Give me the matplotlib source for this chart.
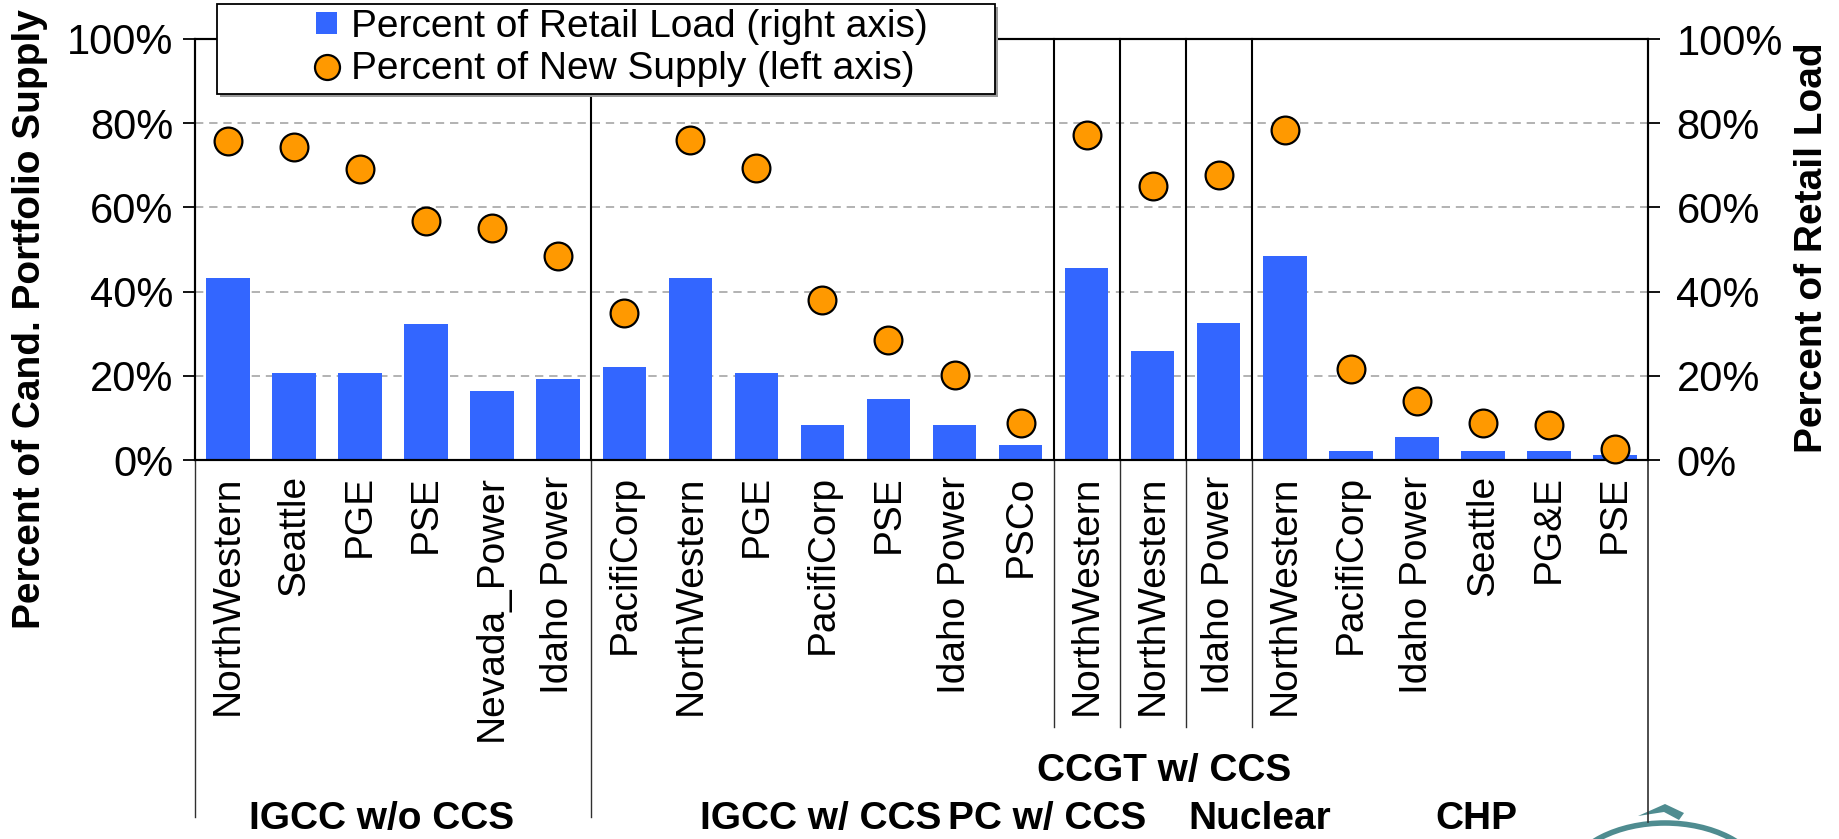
import numpy as np
import matplotlib
matplotlib.use('Agg')
import matplotlib.pyplot as plt
from matplotlib.patches import Rectangle, Arc, Polygon
import matplotlib.transforms as mtransforms
from matplotlib.ticker import PercentFormatter

# ---------------- data ----------------
categories = ["NorthWestern", "Seattle", "PGE", "PSE", "Nevada_Power", "Idaho Power",
              "PacifiCorp", "NorthWestern", "PGE", "PacifiCorp", "PSE", "Idaho Power", "PSCo",
              "NorthWestern", "NorthWestern", "Idaho Power",
              "NorthWestern", "PacifiCorp", "Idaho Power", "Seattle", "PG&E", "PSE"]
groups = ["IGCC w/o CCS", "IGCC w/ CCS", "PC w/ CCS", "CCGT w/ CCS", "Nuclear", "CHP"]
group_sizes = [6, 7, 1, 1, 1, 6]
retail_load = [43.3, 20.6, 20.6, 32.2, 16.3, 19.2,
               22.1, 43.3, 20.7, 8.3, 14.4, 8.3, 3.5,
               45.6, 25.9, 32.6,
               48.4, 2.1, 5.4, 2.1, 2.1, 1.1]
new_supply = [75.8, 74.4, 69.1, 56.7, 55.2, 48.5,
              34.8, 76.0, 69.3, 38.1, 28.6, 20.3, 8.9,
              77.2, 65.2, 67.6,
              78.3, 21.7, 14.1, 8.9, 8.4, 2.6]
yticks = [0, 20, 40, 60, 80, 100]
series_labels = ["Percent of Retail Load (right axis)", "Percent of New Supply (left axis)"]

# ---------------- layout ----------------
plt.rcParams['font.family'] = ['Liberation Sans', 'DejaVu Sans']
W, H = 1839, 839
L, R, T, B = 195, 1648, 39, 460
fig = plt.figure(figsize=(W / 100, H / 100), dpi=100)
ax = fig.add_axes([L / W, 1 - B / H, (R - L) / W, (B - T) / H])
ax2 = ax.twinx()
ax.set_zorder(2)
ax.patch.set_visible(False)

BLUE = '#3366FF'
ORANGE = '#FF9900'

x = np.arange(len(categories))
bars = ax2.bar(x, retail_load, width=0.66, color=BLUE, zorder=2, label=series_labels[0])
dots, = ax.plot(x, new_supply, 'o', ms=20, mfc=ORANGE, mec='black', mew=1.6,
                ls='none', label=series_labels[1], clip_on=False, zorder=3)

for a in (ax, ax2):
    a.set_ylim(0, 100)
    a.set_xlim(-0.5, len(categories) - 0.5)
    a.set_yticks(yticks)
    a.yaxis.set_major_formatter(PercentFormatter(decimals=0))
    for s in a.spines.values():
        s.set_linewidth(1.5)

ax2.set_axisbelow(True)
ax2.grid(axis='y', color='#A6A6A6', ls=(0, (5, 3.5)), lw=1.2)

ax.set_xticks(x)
ax.set_xticklabels(categories, rotation=90, fontsize=28)
ax.tick_params(axis='x', length=0, pad=11)
ax.tick_params(axis='y', direction='out', length=8.5, width=1.3, pad=7, labelsize=30)
ax2.tick_params(axis='y', direction='out', length=8.5, width=1.3, pad=12, labelsize=30)

# group separators
bounds = np.cumsum(group_sizes)[:-1] - 0.5
sep_bottom = [-0.848, -0.634, -0.634, -0.634, -0.634]
trans = mtransforms.blended_transform_factory(ax.transData, ax.transAxes)
for bx, yb in zip(bounds, sep_bottom):
    ax.plot([bx, bx], [0, 1], color='black', lw=1.5, transform=trans, clip_on=False, zorder=1)
    ax.plot([bx, bx], [yb, 0], color='#303030', lw=1.0, transform=trans, clip_on=False)
# spine extensions below axis
ax.plot([-0.5, -0.5], [-0.848, 0], color='#303030', lw=1.0, transform=trans, clip_on=False)
ax.plot([len(categories) - 0.5] * 2, [-0.86, 0], color='#303030', lw=1.2,
        transform=trans, clip_on=False)

# group labels
group_label_x = [2.33, 8.97, 12.4, 14.17, 15.62, 18.9]
group_label_y = [-0.853, -0.853, -0.853, -0.739, -0.853, -0.853]
for g, gx, gy in zip(groups, group_label_x, group_label_y):
    ax.text(gx, gy, g, transform=trans, ha='center', va='center', fontsize=28,
            fontweight='bold')

# axis titles
fig.text(30 / W, 0.620, 'Percent of Cand. Portfolio Supply', rotation=90, ha='center',
         va='center', fontsize=28, fontweight='bold')
fig.text(1812 / W, 0.705, 'Percent of Retail Load', rotation=90, ha='center',
         va='center', fontsize=28, fontweight='bold')

# legend with custom frame
shadow = Rectangle(((217 + 3) / W, 1 - (94 + 3) / H), 778 / W, 90 / H, transform=fig.transFigure,
                   fc='#9A9A9A', ec='none', zorder=7)
frame = Rectangle((217 / W, 1 - 94 / H), 778 / W, 90 / H, transform=fig.transFigure,
                  fc='white', ec='black', lw=1.3, zorder=8)
fig.add_artist(shadow)
fig.add_artist(frame)
leg = fig.legend(handles=[bars, dots], labels=series_labels, loc='upper left',
                 bbox_to_anchor=(312 / W, 1 - 5 / H), frameon=False, fontsize=28,
                 handlelength=0.55, handleheight=0.5, handletextpad=0.35,
                 labelspacing=0.16, borderpad=0.1, borderaxespad=0, markerscale=0.9)
leg.set_zorder(10)

# partial logo (bottom right)
arc = Arc((1665 / W, -46 / H), 200 / W, 124 / H, theta1=15, theta2=165,
          transform=fig.transFigure, color='#4F8C90', lw=4)
fig.add_artist(arc)
chev = Polygon([(1638 / W, 1 - 816 / H), (1665 / W, 1 - 804 / H), (1684 / W, 1 - 813 / H),
                (1679 / W, 1 - 820 / H), (1664 / W, 1 - 812 / H)], closed=True,
               transform=fig.transFigure, fc='#4F8C90', ec='none')
fig.add_artist(chev)

fig.savefig('out.png', dpi=100)
